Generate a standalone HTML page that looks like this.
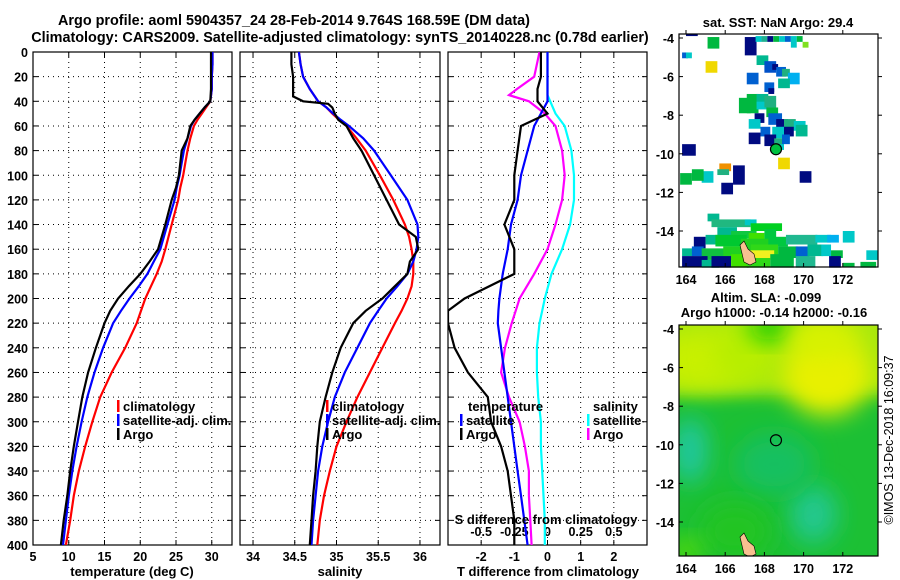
<!DOCTYPE html>
<html><head><meta charset="utf-8"><style>
body{margin:0;background:#fff;}
svg{display:block;font-family:"Liberation Sans",sans-serif;font-weight:bold;}
text{font-size:13px;fill:#000;}
.t{font-size:12.5px;}
.ttl{font-size:14.4px;}
</style></head><body>
<svg id="c" width="900" height="580" viewBox="0 0 900 580" xmlns="http://www.w3.org/2000/svg">
<defs>
<filter id="bl" x="-50%" y="-50%" width="200%" height="200%"><feGaussianBlur stdDeviation="12"/></filter>
<filter id="bl2" x="-50%" y="-50%" width="200%" height="200%"><feGaussianBlur stdDeviation="8"/></filter>
<clipPath id="cp1"><rect x="33" y="52" width="199" height="493"/></clipPath>
<clipPath id="cp2"><rect x="240" y="52" width="200" height="493"/></clipPath>
<clipPath id="cp3"><rect x="448" y="52" width="199" height="493"/></clipPath>
<clipPath id="cm2"><rect x="679" y="325" width="199" height="231"/></clipPath>
</defs>
<text class="ttl" x="294" y="25" text-anchor="middle">Argo profile: aoml 5904357_24 28-Feb-2014 9.764S 168.59E (DM data)</text>
<text class="ttl" x="340" y="42" text-anchor="middle">Climatology: CARS2009. Satellite-adjusted climatology: synTS_20140228.nc (0.78d earlier)</text>
<g id="root"></g>
<text transform="translate(893,440) rotate(-90)" text-anchor="middle" style="font-weight:normal;font-size:12.5px">©IMOS 13-Dec-2018 16:09:37</text>
</svg>
<script>
// ---- data ----
const tempDepth=[0,10,20,30,40,45,50,55,60,70,80,90,100,110,120,140,160,170,180,190,200,210,220,240,260,280,300,320,340,360,380,400];
const tempArgo=[29.9,29.9,29.9,29.9,29.8,29.0,28.3,27.6,27.0,26.6,25.8,25.6,25.4,25.0,24.4,23.5,22.5,21.3,20.0,18.4,16.9,15.8,15.0,13.8,12.7,11.9,11.3,10.7,10.2,9.8,9.3,8.9];
const tempClim=[30.1,30.1,30.0,30.0,29.8,29.2,28.6,28.0,27.5,27.0,26.6,26.3,26.0,25.6,25.3,24.4,23.5,23.0,22.3,21.5,20.7,20.1,19.5,17.9,16.0,14.4,13.3,12.3,11.4,10.7,10.2,9.6];
const tempSat=[30.1,30.1,30.0,30.0,29.8,29.0,28.3,27.6,27.1,26.6,26.1,25.8,25.5,25.1,24.8,23.8,22.8,21.9,21.0,19.8,18.5,17.3,16.2,14.8,13.6,12.6,11.8,11.1,10.5,10.0,9.6,9.2];
const salDepth=[0,10,20,30,36,40,42,45,50,55,60,70,80,100,120,140,150,160,170,180,190,200,210,220,240,260,280,300,320,340,360,380,400];
const salArgo=[34.46,34.46,34.48,34.48,34.48,34.6,34.9,34.95,34.98,35.02,35.12,35.2,35.3,35.45,35.6,35.75,35.95,35.98,35.88,35.85,35.7,35.55,35.35,35.2,35.05,34.95,34.87,34.8,34.77,34.75,34.72,34.7,34.68];
const salClim=[34.55,34.57,34.6,34.68,34.74,34.78,34.82,34.88,34.95,35.03,35.12,35.24,35.35,35.52,35.68,35.82,35.87,35.9,35.92,35.92,35.9,35.85,35.78,35.7,35.55,35.4,35.25,35.12,35.0,34.92,34.85,34.8,34.77];
const salSat=[34.55,34.57,34.6,34.68,34.74,34.78,34.82,34.88,34.96,35.05,35.15,35.32,35.45,35.65,35.85,35.97,35.98,35.96,35.92,35.85,35.73,35.6,35.5,35.4,35.25,35.1,34.98,34.9,34.83,34.78,34.75,34.72,34.7];
const diffDepth=[0,20,30,35,40,50,60,80,100,120,140,160,180,200,210,220,240,260,280,300,320,340,360,380,400];
const tdiffArgo=[-0.2,-0.2,-0.3,-0.3,-0.3,0,-0.8,-0.9,-1.0,-1.0,-1.3,-1.0,-1.0,-2.5,-3.0,-3.0,-2.8,-2.4,-1.8,-1.7,-1.4,-1.2,-1.1,-1.0,-1.0];
const tdiffSat=[0,0,0,0,0,-0.2,-0.4,-0.6,-0.8,-0.9,-1.1,-1.2,-1.35,-1.45,-1.48,-1.5,-1.4,-1.3,-1.2,-1.1,-1.0,-0.9,-0.8,-0.7,-0.6];
const sdiffArgo=[-0.06,-0.10,-0.23,-0.29,-0.14,-0.02,0.06,0.11,0.13,0.11,0.06,0,-0.10,-0.21,-0.24,-0.27,-0.32,-0.35,-0.29,-0.21,-0.17,-0.14,-0.14,-0.13,-0.12];
const sdiffSat=[0,0,0,0,0.02,0.06,0.13,0.18,0.20,0.20,0.17,0.11,0.03,-0.02,-0.04,-0.06,-0.08,-0.08,-0.07,-0.05,-0.05,-0.04,-0.03,-0.02,-0.02];
const depthTicks=[0,20,40,60,80,100,120,140,160,180,200,220,240,260,280,300,320,340,360,380,400];
const tempTicks=[5,10,15,20,25,30];
const salTicks=[34,34.5,35,35.5,36];
const tdiffTicks=[-2,-1,0,1,2];
const sdiffTicks=[-0.5,-0.25,0,0.25,0.5];
const lonTicks=[164,166,168,170,172];
const latTicks=[-4,-6,-8,-10,-12,-14];
const argoLon=168.59, argoLat=-9.764;
// SST cells: [lon, lat(top), width deg, height deg, colour]
const sstCells=[
[165.1,-3.95,0.6,0.6,'#00b840'],[167.0,-3.95,0.6,0.95,'#000a80'],[167.55,-3.9,0.3,0.3,'#00c8c8'],[167.85,-3.9,0.3,0.3,'#20b090'],[168.15,-3.9,0.3,0.3,'#000a80'],[168.45,-3.9,0.3,0.3,'#00b840'],[168.75,-3.9,0.3,0.3,'#00c8c8'],[169.05,-3.9,0.3,0.3,'#0060d0'],[169.35,-3.9,0.3,0.6,'#00c8c8'],[169.65,-3.9,0.3,0.3,'#00b840'],[169.95,-4.2,0.3,0.3,'#80e020'],[164.0,-3.8,0.6,0.1,'#000a80'],
[163.8,-4.75,0.3,0.3,'#0060d0'],[164.0,-4.75,0.3,0.3,'#00c8c8'],[165.0,-5.2,0.6,0.6,'#f0d800'],
[167.6,-4.9,0.6,0.5,'#00b890'],[168.0,-5.2,0.6,0.6,'#0050c8'],[168.4,-5.35,0.3,0.3,'#000a80'],[168.6,-5.5,0.5,0.5,'#0060d0'],[168.9,-5.6,0.4,0.4,'#20b080'],[169.2,-5.8,0.6,0.6,'#00b0f0'],[167.1,-5.8,0.6,0.6,'#0060d0'],
[168.7,-6.1,0.6,0.5,'#00b890'],[168.0,-6.3,0.5,0.5,'#0060d0'],[168.2,-6.6,0.3,0.3,'#000a80'],[167.1,-6.9,0.6,1.0,'#00b840'],[167.6,-6.9,0.6,0.6,'#00b890'],[167.6,-7.3,0.6,0.4,'#00c8c8'],[168.0,-7.0,0.6,0.6,'#20b080'],[168.1,-7.6,0.6,0.5,'#00b840'],[166.7,-7.1,0.6,0.8,'#00b840'],[167.5,-7.9,0.5,0.5,'#000a80'],[167.2,-8.2,0.6,0.5,'#00c8c8'],[168.2,-7.9,0.7,0.6,'#0060d0'],[168.6,-8.2,0.6,0.5,'#000a80'],[169.0,-8.2,0.6,0.6,'#20b080'],[169.5,-8.3,0.6,0.5,'#00c8c8'],[169.6,-8.5,0.6,0.6,'#00b890'],[169.0,-8.6,0.5,0.5,'#000a80'],[168.4,-8.6,0.6,0.6,'#00c8c8'],[167.8,-8.6,0.5,0.5,'#0060d0'],
[167.2,-8.9,0.6,0.6,'#000a80'],[168.0,-9.0,0.6,0.6,'#000a80'],[168.5,-9.2,0.5,0.5,'#20b080'],[168.9,-9.0,0.4,0.5,'#0060d0'],[168.5,-9.5,0.5,0.3,'#00c8c8'],
[163.8,-9.5,0.7,0.6,'#000a80'],[168.7,-10.2,0.6,0.6,'#f0d800'],[165.7,-10.5,0.6,0.4,'#f09000'],[165.6,-10.8,0.6,0.3,'#20b080'],[164.8,-10.9,0.6,0.6,'#00c8c8'],[164.3,-10.8,0.6,0.6,'#00b840'],[163.7,-11.0,0.6,0.6,'#00b840'],[166.4,-10.6,0.6,1.0,'#000a80'],[165.8,-11.5,0.6,0.6,'#000a80'],[169.8,-10.9,0.6,0.6,'#000a80'],
[172.0,-14.0,0.6,0.6,'#00c8c8'],
[165.1,-13.1,0.6,0.4,'#00b890'],[165.3,-13.4,2.0,0.4,'#20b880'],[167.0,-13.4,0.6,0.3,'#00c8c8'],[167.3,-13.6,1.6,0.4,'#00d020'],[165.6,-13.8,1.0,0.5,'#00b890'],[166.3,-14.0,1.3,0.4,'#10c840'],[167.2,-14.1,0.8,0.4,'#40e000'],[168.0,-13.9,0.6,0.6,'#00c840'],
[164.4,-14.3,0.6,0.6,'#000a80'],[165.0,-14.2,0.6,0.5,'#00b890'],[165.5,-14.2,1.6,0.6,'#00c830'],[166.8,-14.4,1.5,0.5,'#20d020'],[168.2,-14.3,1.0,0.5,'#00c840'],[169.1,-14.2,1.6,0.5,'#20b890'],[170.6,-14.2,0.8,0.4,'#00c8c8'],[171.2,-14.2,0.6,0.4,'#00b0f0'],
[163.8,-14.9,0.6,0.4,'#00b890'],[164.3,-14.8,0.6,0.5,'#0060d0'],[164.8,-14.9,1.2,0.6,'#10c040'],[165.9,-14.8,1.8,0.7,'#20d020'],[167.3,-14.7,1.4,0.6,'#30d818'],[168.7,-14.8,1.0,0.6,'#00b840'],[169.6,-14.8,0.7,0.6,'#0060d0'],[170.2,-14.7,0.8,0.6,'#00b890'],[170.9,-14.7,0.5,0.6,'#00c8c8'],[171.4,-15.0,0.6,0.4,'#00b840'],[173.2,-15.0,0.6,0.5,'#00c8c8'],
[163.8,-15.3,1.3,0.55,'#000a80'],[164.8,-15.5,0.9,0.4,'#00b890'],[165.3,-15.3,1.0,0.6,'#000a80'],[166.3,-15.2,0.9,0.7,'#40e000'],[167.2,-15.0,1.3,0.5,'#f0f020'],[167.1,-15.4,1.2,0.5,'#30d818'],[168.3,-15.2,1.2,0.7,'#00b840'],[169.6,-15.3,1.0,0.6,'#20b890'],[171.3,-15.3,0.6,0.6,'#000a80'],[172.0,-15.65,0.6,0.2,'#00b840'],[172.9,-15.6,0.8,0.3,'#00b840']
];
// SLA blobs: [lon, lat, rx deg, ry deg, colour]
const slaBlobs=[
[164.8,-5.6,2.4,1.5,'#c8f000'],[167.0,-5.3,1.6,1.4,'#b8ee00'],[168.3,-3.9,1.1,0.7,'#10cc00'],[171.2,-6.4,2.2,2.1,'#e8f000'],[171.0,-4.5,1.8,1.0,'#d8f200'],
[164.2,-10.3,0.9,1.7,'#20c8a0'],[170.5,-13.6,1.2,1.5,'#20c890'],[168.5,-11,2,1.6,'#18c060'],[166.5,-14.5,1.8,1.5,'#20c420'],[164.0,-15.5,0.8,0.6,'#60e000']
];
// ---- drawing ----
const NS='http://www.w3.org/2000/svg';
const root=document.getElementById('root');
function el(tag,attrs,parent){const e=document.createElementNS(NS,tag);for(const k in attrs)e.setAttribute(k,attrs[k]);(parent||root).appendChild(e);return e;}
function txt(s,x,y,anchor,cls,parent){const t=el('text',{x:x,y:y,'text-anchor':anchor||'start'},parent);if(cls)t.setAttribute('class',cls);t.textContent=s;return t;}
const Y0=52,Y1=545;
const yD=d=>Y0+d/400*(Y1-Y0);
const panels=[
 {x0:33,x1:232,min:5,max:32.83,clip:'cp1',name:'temperature-panel'},
 {x0:240,x1:440,min:33.844,max:36.24,clip:'cp2',name:'salinity-panel'},
 {x0:448,x1:647,min:-3.0,max:3.0,clip:'cp3',name:'difference-panel'}];
function xS(p,v){return p.x0+(v-p.min)/(p.max-p.min)*(p.x1-p.x0);}
function line(p,vals,depths,color,name,scale){
 const pts=vals.map((v,i)=>xS(p,v*(scale||1)).toFixed(1)+','+yD(depths[i]).toFixed(1)).join(' ');
 const l=el('polyline',{points:pts,fill:'none',stroke:color,'stroke-width':2.2,'clip-path':'url(#'+p.clip+')'});
 
 
}
panels.forEach((p,pi)=>{
 const g=el('g',{});
 
 
 const ticks=pi==0?tempTicks:pi==1?salTicks:tdiffTicks;
 ticks.forEach(t=>{const x=xS(p,t);el('line',{x1:x,y1:Y0,x2:x,y2:Y1,stroke:'#000','stroke-dasharray':'1 4','stroke-width':1},g);
   el('line',{x1:x,y1:Y1,x2:x,y2:Y1-5,stroke:'#000'},g);el('line',{x1:x,y1:Y0,x2:x,y2:Y0+5,stroke:'#000'},g);
   const lb=txt(String(t),x,Y1+16,'middle','t',g);});
 depthTicks.forEach(d=>{const y=yD(d);if(d>0&&d<400)el('line',{x1:p.x0,y1:y,x2:p.x1,y2:y,stroke:'#000','stroke-dasharray':'1 4'},g);
   el('line',{x1:p.x0,y1:y,x2:p.x0+5,y2:y,stroke:'#000'},g);el('line',{x1:p.x1,y1:y,x2:p.x1-5,y2:y,stroke:'#000'},g);
   if(pi==0){const lb=txt(String(d),28,y+5,'end','t',g);}});
 el('rect',{x:p.x0,y:Y0,width:p.x1-p.x0,height:Y1-Y0,fill:'none',stroke:'#000','stroke-width':1.2},g);
});
const pd=panels[2];
sdiffTicks.forEach(s=>{const x=xS(pd,s*4);const lb=txt(String(s),x,536,'middle','t');});
line(panels[0],tempClim,tempDepth,'#f00','temp-climatology-line');
line(panels[0],tempSat,tempDepth,'#00f','temp-satellite-line');
line(panels[0],tempArgo,tempDepth,'#000','temp-argo-line');
line(panels[1],salClim,salDepth,'#f00','sal-climatology-line');
line(panels[1],salSat,salDepth,'#00f','sal-satellite-line');
line(panels[1],salArgo,salDepth,'#000','sal-argo-line');
line(pd,sdiffSat,diffDepth,'#00ffff','sdiff-satellite-line',4);
line(pd,sdiffArgo,diffDepth,'#ff00ff','sdiff-argo-line',4);
line(pd,tdiffSat,diffDepth,'#0000ff','tdiff-satellite-line');
line(pd,tdiffArgo,diffDepth,'#000','tdiff-argo-line');
[['temperature (deg C)',132,'temperature-axis-title'],['salinity',340,'salinity-axis-title'],['T difference from climatology',548,'t-diff-axis-title']].forEach(a=>{const t=txt(a[0],a[1],576,'middle');});
const st=txt('S difference from climatology',546,524,'middle');
function leg(x,y,color,label,name){el('rect',{x:x,y:y-11,width:2.5,height:12,fill:color});const t=txt(label,x+6,y,'start');}
leg(117,411,'#f00','climatology','legend-climatology');leg(117,425,'#00f','satellite-adj. clim.','legend-satellite');leg(117,439,'#000','Argo','legend-argo');
leg(326,411,'#f00','climatology','legend-climatology-sal');leg(326,425,'#00f','satellite-adj. clim.','legend-satellite-sal');leg(326,439,'#000','Argo','legend-argo-sal');
txt('temperature',468,411);
leg(460,425,'#00f','satellite','legend-t-satellite');leg(460,439,'#000','Argo','legend-t-argo');
txt('salinity',593,411);
leg(587,425,'#00ffff','satellite','legend-s-satellite');leg(587,439,'#ff00ff','Argo','legend-s-argo');
function mapAxes(m,g){
 lonTicks.forEach(l=>{const x=m.lx(l);el('line',{x1:x,y1:m.y1,x2:x,y2:m.y1-4,stroke:'#000'},g);el('line',{x1:x,y1:m.y0,x2:x,y2:m.y0-4,stroke:'#000'},g);
  const t=txt(String(l),x,m.y1+17,'middle','t',g);});
 latTicks.forEach(l=>{const y=m.ly(l);el('line',{x1:m.x0,y1:y,x2:m.x0+4,y2:y,stroke:'#000'},g);el('line',{x1:m.x1,y1:y,x2:m.x1+4,y2:y,stroke:'#000'},g);
  const t=txt(String(l),m.x0-5,y+5,'end','t',g);});
 el('rect',{x:m.x0,y:m.y0,width:m.x1-m.x0,height:m.y1-m.y0,fill:'none',stroke:'#000','stroke-width':1.2},g);
}
const m1={x0:679,x1:878,y0:34,y1:267,lx:l=>686+(l-164)*19.6,ly:l=>38+(-4-l)*19.3};
const m2={x0:679,x1:878,y0:325,y1:556,lx:l=>686+(l-164)*19.6,ly:l=>329+(-4-l)*19.3};
const g1=el('g',{});
el('rect',{x:m1.x0,y:m1.y0,width:199,height:233,fill:'#fff'},g1);
sstCells.forEach(c=>{const x=m1.lx(c[0]),y=m1.ly(c[1]);const r=el('rect',{x:Math.max(x,m1.x0),y:Math.max(y,m1.y0),width:c[2]*19.6,height:c[3]*19.3,fill:c[4]},g1);
 });
el('rect',{x:879,y:0,width:21,height:300,fill:'#fff'},g1);
el('path',{d:'M740,245 l4,-4 4,8 6,5 2,8 -6,3 -6,-3z',fill:'#f8c090',stroke:'#000','stroke-width':0.6},g1);
el('circle',{cx:m1.lx(argoLon),cy:m1.ly(argoLat),r:5.5,fill:'#00c040',stroke:'#000','stroke-width':1.2},g1);
mapAxes(m1,g1);
const g2=el('g',{});
const g2c=el('g',{'clip-path':'url(#cm2)'},g2);
el('rect',{x:679,y:325,width:199,height:231,fill:'#1cc034'},g2c);
el('rect',{x:640,y:280,width:280,height:115,fill:'#a8e810',filter:'url(#bl2)'},g2c);
slaBlobs.forEach(b=>{const e=el('ellipse',{cx:m2.lx(b[0]),cy:m2.ly(b[1]),rx:b[2]*19.6,ry:b[3]*19.3,fill:b[4],filter:'url(#bl)'},g2c);
 });
el('path',{d:'M740,537 l4,-4 4,8 6,5 2,8 -6,3 -6,-3z',fill:'#f8c090',stroke:'#000','stroke-width':0.6},g2c);
el('circle',{cx:m2.lx(argoLon),cy:m2.ly(argoLat),r:5.5,fill:'none',stroke:'#000','stroke-width':1.2},g2);
mapAxes(m2,g2);
txt('sat. SST: NaN Argo: 29.4',778,27,'middle');
txt('Altim. SLA: -0.099',766,302,'middle');
txt('Argo h1000: -0.14 h2000: -0.16',774,317,'middle');
</script>
</body></html>
